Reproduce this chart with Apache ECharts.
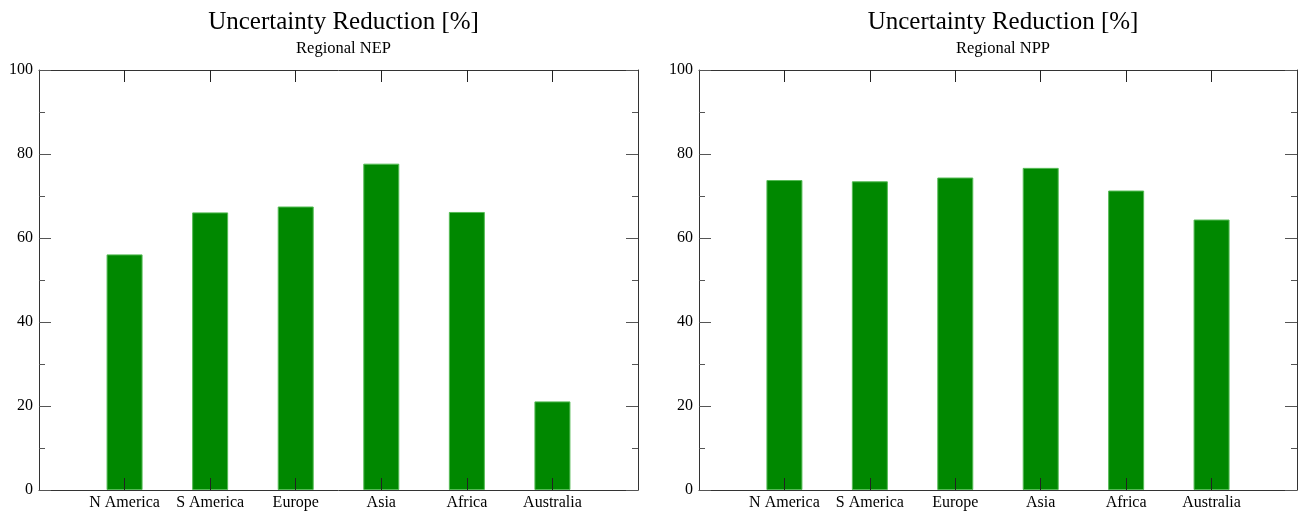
<!DOCTYPE html>
<html>
<head>
<meta charset="utf-8">
<script src="https://cdn.jsdelivr.net/npm/echarts@6/dist/echarts.min.js"></script>
<style>
html,body{margin:0;padding:0;background:#fff;}
#chart{width:1298px;height:513px;}
</style>
</head>
<body>
<div id="chart"></div>
<script>
const categories = ['N America', 'S America', 'Europe', 'Asia', 'Africa', 'Australia'];
const nepValues = [56.1, 66.1, 67.5, 77.7, 66.2, 21.1];
const nppValues = [73.8, 73.5, 74.4, 76.7, 71.3, 64.4];
const yTicks = [0, 20, 40, 60, 80, 100];
const mainTitle = 'Uncertainty Reduction [%]';
const subTitles = ['Regional NEP', 'Regional NPP'];

const FONT = '"Liberation Serif", "DejaVu Serif", serif';
const grids = [
  {left: 39, top: 70, width: 599, height: 420},
  {left: 699, top: 70, width: 598, height: 420}
];

function xAxes(gi) {
  const base = {
    type: 'value', gridIndex: gi, min: 0, max: categories.length + 1, interval: 1,
    z: 10,
    axisLine: {show: true, onZero: false, lineStyle: {color: '#333', width: 1}},
    axisTick: {show: true, inside: true, length: 12, lineStyle: {color: '#222'},
      customValues: categories.map((c, i) => i + 1)},
    splitLine: {show: false}
  };
  return [
    Object.assign({}, base, {position: 'bottom',
      axisLabel: {show: true, margin: 5, color: '#000', fontFamily: FONT, fontSize: 16,
        customValues: categories.map((c, i) => i + 1),
        formatter: v => categories[v - 1] || ''}}),
    Object.assign({}, base, {position: 'top', axisLabel: {show: false}})
  ];
}
function yAxes(gi) {
  const base = {
    type: 'value', gridIndex: gi, min: 0, max: 100, interval: 20,
    z: 10,
    axisLine: {show: true, onZero: false, lineStyle: {color: '#333', width: 1}},
    axisTick: {show: true, inside: true, length: 12, lineStyle: {color: '#555'}},
    minorTick: {show: true, splitNumber: 2, length: 6, lineStyle: {color: '#555'}},
    splitLine: {show: false}
  };
  return [
    Object.assign({}, base, {position: 'left',
      axisLabel: {show: true, margin: 6, color: '#000', fontFamily: FONT, fontSize: 16,
        customValues: yTicks}}),
    Object.assign({}, base, {position: 'right', axisLabel: {show: false}})
  ];
}

const option = {
  animation: false,
  backgroundColor: '#fff',
  title: grids.map((g, i) => ({
    text: mainTitle,
    subtext: subTitles[i],
    left: g.left + g.width / 2,
    textAlign: 'center',
    top: 5,
    itemGap: 5,
    textStyle: {fontFamily: FONT, fontSize: 25, fontWeight: 'normal', color: '#000'},
    subtextStyle: {fontFamily: FONT, fontSize: 16.5, color: '#000'}
  })),
  grid: grids,
  xAxis: [...xAxes(0), ...xAxes(1)],
  yAxis: [...yAxes(0), ...yAxes(1)],
  series: [nepValues, nppValues].map((vals, gi) => ({
    type: 'bar',
    xAxisIndex: gi * 2,
    yAxisIndex: gi * 2,
    barWidth: 36,
    data: vals.map((v, i) => [i + 1, v]),
    itemStyle: {color: '#008800', borderColor: '#55bb55', borderWidth: 1},
    z: 1
  }))
};

const chart = echarts.init(document.getElementById('chart'), null, {renderer: 'canvas'});
chart.setOption(option);
</script>
</body>
</html>
